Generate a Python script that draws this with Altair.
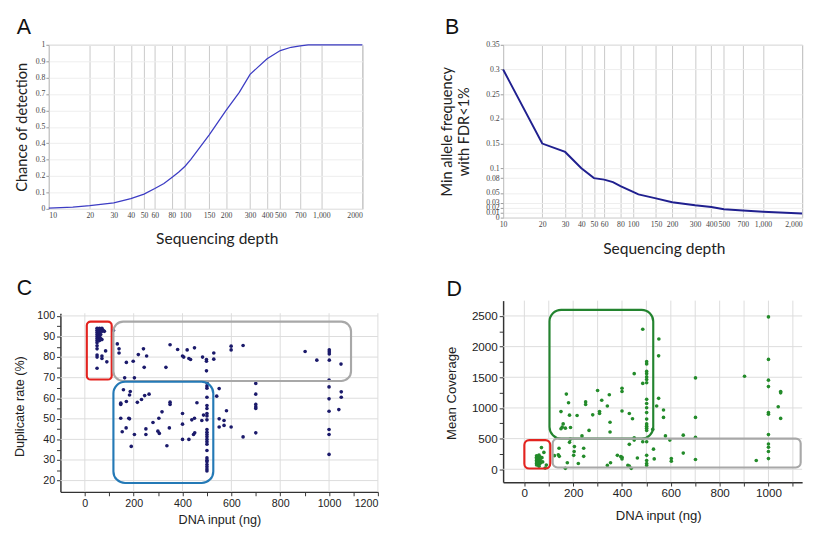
import altair as alt
import pandas as pd

SANS = "Liberation Sans"
SERIF = "Liberation Serif"
HUM = "Lato"

# ---------------- Panel A: chance of detection vs sequencing depth
a_depth = [10, 15, 20, 30, 40, 50, 60, 70, 80, 90, 100, 110, 150, 200, 250, 300, 400, 500, 600, 700, 800, 1000, 2000]
a_chance = [0.005, 0.011, 0.02, 0.036, 0.062, 0.09, 0.124, 0.155, 0.192, 0.225, 0.26, 0.3, 0.45, 0.6, 0.71, 0.82, 0.915, 0.965, 0.985, 0.993, 1.0, 1.0, 1.0]
a_x_ticks = [10, 20, 30, 40, 50, 60, 80, 100, 150, 200, 300, 400, 500, 700, 1000, 2000]
a_y_ticks = [0, 0.1, 0.2, 0.3, 0.4, 0.5, 0.6, 0.7, 0.8, 0.9, 1]

# ---------------- Panel B: min allele frequency vs sequencing depth
b_depth = [10, 20, 30, 40, 50, 60, 70, 80, 100, 110, 150, 200, 300, 400, 500, 700, 1000, 2000]
b_freq = [0.3, 0.15, 0.133, 0.1, 0.08, 0.077, 0.072, 0.064, 0.052, 0.047, 0.039, 0.031, 0.025, 0.0215, 0.017, 0.0145, 0.012, 0.0085]
b_x_ticks = [10, 20, 30, 40, 50, 60, 80, 100, 150, 200, 300, 400, 500, 700, 1000, 2000]
b_y_ticks = [0, 0.01, 0.02, 0.03, 0.05, 0.08, 0.1, 0.15, 0.2, 0.25, 0.3, 0.35]

# ---------------- Panel C: duplicate rate vs DNA input
c_input = [50, 50, 50, 50, 50, 50, 50, 50, 50, 50, 50, 50, 50, 55, 55, 55, 60, 60, 60, 60, 65, 65, 65,
           70, 70, 70, 70, 70, 75, 80, 85, 90,
           117, 133, 140, 140, 170, 163, 203, 198, 219, 240, 243, 253, 332, 349, 380, 400, 405, 419, 426, 433,
           449, 482, 498, 498, 498, 528, 528, 599, 599, 648, 902, 950, 1001, 1001, 1001, 1001, 1049,
           1000, 1000, 1000, 1000, 1000, 1000, 1000, 1050, 1050, 1040,
           700, 700, 700, 700, 700, 700, 648, 599, 580, 570, 570, 550, 550, 550, 540,
           500, 500, 500, 500, 500, 500, 500, 500, 500, 500, 500, 500, 500, 500, 500, 500, 500, 500, 500, 500,
           500, 500, 500, 500,
           486, 479, 459, 449, 438, 445, 450, 426, 400, 400, 400, 349, 349, 346, 336, 316, 303, 299, 305, 279,
           263, 245, 232, 215, 250, 250, 203, 190, 180, 183, 183, 186, 170, 158, 147, 147, 147, 153, 169]
c_dup = [94, 93, 92, 91, 90, 89, 88, 87, 85.5, 84, 81, 80, 74.6, 93.5, 91, 89, 94, 92, 90, 88, 93, 91, 89,
         94, 92.5, 88.5, 80.5, 79.3, 93, 92.5, 83, 77.7,
         93, 86.4, 84, 82, 77.4, 69.9, 69.9, 78, 81.2, 84, 75, 80.5, 75, 86, 83.7, 80.5, 80, 83.5, 79.3, 78.8,
         84.5, 80, 78.8, 78, 73.3, 82, 79, 85.3, 83.5, 85.6, 82.7, 78.5, 83.5, 82.5, 81.5, 78.5, 76.6,
         68.8, 65.5, 59.7, 53.7, 44.8, 42.4, 32.7, 63.1, 60.5, 54.5,
         67.2, 62, 57, 55.8, 55, 43.2, 41.2, 46, 53.9, 49.2, 46.8, 64.7, 50, 46, 61,
         67.5, 66, 64.9, 60.5, 56.5, 55, 52.6, 51.4, 49.5, 44.8, 43.5, 42.4, 41.3, 40, 38.8, 37.7, 34.6, 31,
         29.9, 29.1, 27.8, 26.7, 25.6, 24.7,
         51.8, 49.2, 57.8, 50.3, 49.5, 42.4, 43.2, 40, 52.6, 47.4, 40, 58.1, 57, 45.6, 36.9, 53.4, 50.3, 44,
         42.9, 48.2, 62, 61.3, 59.4, 58, 45.1, 42.4, 42.4, 36.6, 50.3, 50, 61.6, 63.3, 58.4, 64.1, 57.6, 57,
         50.3, 43.7, 45.6]
c_x_ticks = list(range(0, 1201, 100))
c_y_ticks = list(range(20, 101, 5))
c_x_grid = [0, 200, 400, 600, 800, 1000, 1200]
c_y_grid = [20, 30, 40, 50, 60, 70, 80, 90, 100]
# highlight boxes of panel C
c_box_x1 = [8, 117, 117]
c_box_x2 = [110, 1090, 526]
c_box_y1 = [69.1, 68.4, 18.8]
c_box_y2 = [97.2, 97.2, 68.0]
c_box_color = ["#e3231f", "#a8a8a8", "#2479b6"]
c_box_radius = [4, 10, 12]

# ---------------- Panel D: mean coverage vs DNA input
d_input = [50, 50, 50, 50, 50, 50, 50, 55, 55, 55, 60, 60, 60, 60, 60, 65, 65, 65, 70, 72, 75, 80, 85, 90,
           485, 551, 550, 501, 501, 501, 501, 501, 501, 501, 450, 485, 550, 501, 501, 501, 542, 501, 570, 570,
           501, 501, 501, 501, 501, 526, 578, 596, 400, 400, 348, 300, 317, 340, 251, 251, 172, 181, 150, 216,
           185, 280, 308, 308, 400, 430, 443, 351, 351, 265, 159, 155, 150, 168, 189, 236, 188, 185, 450, 450,
           430, 485,
           123, 139, 142, 143, 176, 168, 205, 204, 202, 221, 243, 243, 340, 353, 381, 400, 400, 424, 430, 438,
           463, 501, 501, 501, 501, 501, 529, 532, 602, 602, 651, 651, 701, 701, 701, 701, 902, 950,
           1000, 1000, 1000, 1000, 1000, 1000, 1000, 1000, 1000, 1000, 1000, 1050, 1050, 1040, 1050, 395]
d_cov = [220, 195, 170, 145, 120, 95, 70, 210, 160, 110, 230, 185, 130, 80, 50, 200, 150, 100, 354, 190, 120, 275, 20, 69,
         2283, 2125, 1850, 1755, 1718, 1596, 1559, 1506, 1464, 1411, 1559, 1400, 1157, 1141, 1073, 1004, 1031, 925, 967, 846,
         819, 740, 703, 671, 634, 650, 544, 476, 1321, 1268, 1216, 1284, 1126, 1031, 1099, 1057, 1226, 1084, 941, 877,
         883, 888, 941, 909, 951, 909, 825, 767, 608, 634, 740, 687, 661, 671, 682, 544, 491, 439, 513, 476,
         407, 450,
         222, 238, 344, 211, 106, 16, 370, 291, 227, 95, 344, 211, 63, 106, 227, 196, 169, 63, 53, 16,
         185, 449, 227, 143, 95, 63, 328, 169, 174, 132, 264, 556, 159, 523, 846, 1490, 1517, 143,
         2484, 1792, 1453, 1348, 925, 899, 566, 412, 360, 291, 174, 1268, 1247, 1020, 830, 206]
d_x_ticks = list(range(0, 1101, 100))
d_y_ticks = list(range(0, 2501, 250))
d_x_grid = list(range(0, 1101, 100))
d_y_grid = [0, 500, 1000, 1500, 2000, 2500]
d_box_x1 = [103, 116, 0]
d_box_x2 = [528, 1132, 106]
d_box_y1 = [500, 30, 12]
d_box_y2 = [2600, 500, 475]
d_box_color = ["#23842f", "#a8a8a8", "#e3231f"]
d_box_radius = [12, 5, 5]


def panel_title(letter, dx, offset):
    return alt.TitleParams(text=letter, anchor="start", frame="group", dx=dx, offset=offset,
                           fontSize=22, font=SANS, fontWeight="normal", color="#111")


# ---------------- build A
a_df = pd.DataFrame({"depth": a_depth, "chance": a_chance})
chart_a = alt.Chart(a_df, title=panel_title("A", -33, 2)).mark_line(
    color="#3c3cc4", strokeWidth=1.3).encode(
    x=alt.X("depth:Q", scale=alt.Scale(type="log", domain=[10, 2000], nice=False),
            axis=alt.Axis(values=a_x_ticks,
                          labelExpr="datum.value == 1000 ? '1,000' : '' + datum.value",
                          title="Sequencing depth", titleX=173, titleY=31, titleBaseline="middle",
                          titleAlign="center", titleFont=HUM, titleFontSize=16,
                          titleFontWeight="normal", titleColor="#222",
                          labelFont=SERIF, labelFontSize=8, labelColor="#444", labelPadding=3,
                          labelOverlap=False, gridColor="#c8c8c8", tickSize=0, domain=False)),
    y=alt.Y("chance:Q", scale=alt.Scale(domain=[0, 1], nice=False),
            axis=alt.Axis(values=a_y_ticks, format="~g", title="Chance of detection",
                          titleX=-28, titleY=84.5, titleAngle=270, titleBaseline="middle",
                          titleAlign="center", titleFont=HUM, titleFontSize=15,
                          titleFontWeight="normal", titleColor="#222",
                          labelFont=SERIF, labelFontSize=8, labelColor="#444", labelPadding=1,
                          labelOverlap=False, gridColor="#ededed", tickSize=3, tickColor="#999",
                          domain=False)),
).properties(width=323, height=169, view=alt.ViewBackground(stroke="#b4b4b4"))

# ---------------- build B
b_df = pd.DataFrame({"depth": b_depth, "freq": b_freq})
chart_b = alt.Chart(b_df, title=panel_title("B", -60, 2)).mark_line(
    color="#20208f", strokeWidth=2).encode(
    x=alt.X("depth:Q", scale=alt.Scale(type="log", domain=[10, 2000], nice=False),
            axis=alt.Axis(values=b_x_ticks,
                          labelExpr="datum.value == 1000 ? '1,000' : datum.value == 2000 ? '2,000' : '' + datum.value",
                          labelAlign={"condition": {"test": "datum.value == 2000", "value": "right"}, "value": "center"},
                          title="Sequencing depth", titleX=165.5, titleY=32, titleBaseline="middle",
                          titleAlign="center", titleFont=HUM, titleFontSize=16,
                          titleFontWeight="normal", titleColor="#222",
                          labelFont=SERIF, labelFontSize=8, labelColor="#444", labelPadding=3,
                          labelOverlap=False, gridColor="#c8c8c8", tickSize=0, domain=False)),
    y=alt.Y("freq:Q", scale=alt.Scale(domain=[0, 0.35], nice=False),
            axis=alt.Axis(values=b_y_ticks, format="~g",
                          title=["Min allele frequency", "with FDR<1%"],
                          titleX=-58, titleY=89, titleAngle=270, titleBaseline="middle",
                          titleAlign="center", titleLineHeight=17, titleFont=HUM, titleFontSize=15,
                          titleFontWeight="normal", titleColor="#222",
                          labelFont=SERIF, labelFontSize=8, labelColor="#444", labelPadding=1,
                          labelOverlap=False, gridColor="#ededed", tickSize=3, tickColor="#999",
                          domain=False)),
).properties(width=308, height=178, view=alt.ViewBackground(stroke="#b4b4b4"))


# ---------------- scatter panels
def scatter_panel(xs, ys, color, xscale, yscale, xaxis, yaxis, xgrid, ygrid, boxes, title, w, h, size):
    df = pd.DataFrame({"x": xs, "y": ys})
    gx = alt.Chart(pd.DataFrame({"gx": xgrid})).mark_rule(color="#dcdcdc", strokeWidth=1).encode(
        x=alt.X("gx:Q", scale=xscale, axis=xaxis))
    gy = alt.Chart(pd.DataFrame({"gy": ygrid})).mark_rule(color="#dcdcdc", strokeWidth=1).encode(
        y=alt.Y("gy:Q", scale=yscale, axis=yaxis))
    pts = alt.Chart(df).mark_circle(size=size, color=color, opacity=1).encode(
        x=alt.X("x:Q", scale=xscale, axis=xaxis),
        y=alt.Y("y:Q", scale=yscale, axis=yaxis),
    )
    layers = [gx, gy, pts]
    for x1, x2, y1, y2, col, r in boxes:
        bdf = pd.DataFrame({"x1": [x1], "x2": [x2], "y1": [y1], "y2": [y2]})
        layers.append(alt.Chart(bdf).mark_rect(fillOpacity=0, stroke=col, strokeWidth=2.2,
                                               cornerRadius=r).encode(
            x=alt.X("x1:Q", scale=xscale, axis=xaxis), x2="x2:Q",
            y=alt.Y("y1:Q", scale=yscale, axis=yaxis), y2="y2:Q"))
    return alt.layer(*layers, title=title).properties(
        width=w, height=h, view=alt.ViewBackground(stroke="transparent"))


def lin_axis(values, step, title, tx, ty, lsize, tsize, vertical):
    kw = dict(values=values, format="d", grid=False,
              labelExpr=f"datum.value % {step} === 0 ? datum.label : ''",
              tickSize=4, tickColor="#333", domainColor="#333",
              domainWidth=1.5, labelFont=SANS, labelFontSize=lsize, labelColor="#222",
              labelPadding=2, labelOverlap=False, title=title, titleFont=SANS,
              titleFontSize=tsize, titleFontWeight="normal", titleColor="#222",
              titleX=tx, titleY=ty, titleBaseline="middle", titleAlign="center")
    if vertical:
        kw["titleAngle"] = 270
    return alt.Axis(**kw)


c_boxes = list(zip(c_box_x1, c_box_x2, c_box_y1, c_box_y2, c_box_color, c_box_radius))
chart_c = scatter_panel(
    c_input, c_dup, "#1b1a6b",
    alt.Scale(domain=[-100, 1200], nice=False, zero=False),
    alt.Scale(domain=[14.5, 101.3], nice=False, zero=False),
    lin_axis(c_x_ticks, 200, "DNA input (ng)", 163.8, 29, 11, 13, False),
    lin_axis(c_y_ticks, 10, "Duplicate rate (%)", -42, 95.7, 11, 13, True),
    c_x_grid, c_y_grid, c_boxes, panel_title("C", -45, 10.1), 327, 184, 14)

d_boxes = list(zip(d_box_x1, d_box_x2, d_box_y1, d_box_y2, d_box_color, d_box_radius))
chart_d = scatter_panel(
    d_input, d_cov, "#238b2a",
    alt.Scale(domain=[-87, 1138], nice=False, zero=False),
    alt.Scale(domain=[-210, 2750], nice=False, zero=False),
    lin_axis(d_x_ticks, 200, "DNA input (ng)", 159.8, 34, 12, 13.5, False),
    lin_axis(d_y_ticks, 500, "Mean Coverage", -53, 95, 12, 13.5, True),
    d_x_grid, d_y_grid, d_boxes, panel_title("D", -58.3, -1), 308, 187, 14)

spacer_df = pd.DataFrame({"v": [0]})


def spacer():
    return alt.Chart(spacer_df).mark_point(size=1, opacity=0).properties(width=1, height=1)


col1 = alt.vconcat(alt.hconcat(spacer(), chart_a, spacing=5),
                   alt.hconcat(spacer(), chart_c, spacing=4), spacing=30.5)
col2 = alt.vconcat(chart_b, chart_d, spacing=21.5)
chart = alt.hconcat(col1, col2, spacing=62).properties(padding=0).configure_view(
    stroke="transparent").configure(font=SANS)

chart.save("out.html", embed_options={"renderer": "svg", "actions": False})
